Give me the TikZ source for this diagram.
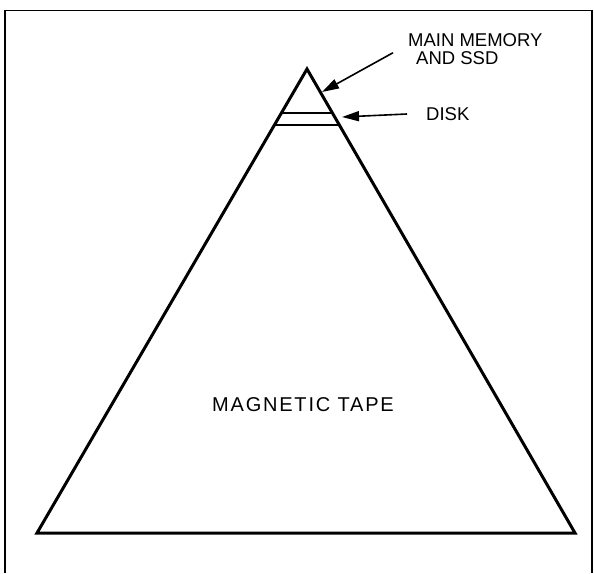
\documentclass[tikz,border=0pt]{standalone}
\usepackage{fontspec}
\setmainfont{Liberation Sans}
\usetikzlibrary{arrows.meta,positioning,calc}

\begin{document}
\begin{tikzpicture}[x=1pt,y=-1pt,>={Triangle[length=17pt,width=10pt]}]
  \tikzstyle{lbl}=[inner sep=0pt,font=\fontsize{18.5}{18}\selectfont,align=left]
  \tikzstyle{edge}=[line width=3pt,line join=miter]
  \tikzstyle{band}=[line width=2.5pt]
  \tikzstyle{arr}=[line width=1.6pt,->]
  \useasboundingbox (0,0) rectangle (594,573);
  \draw[line width=1.5pt] (5,573) -- (5,10.5) -- (592,10.5) -- (592,573);
  % pyramid
  \coordinate (apex) at (307,69);
  \coordinate (bl) at (37,533);
  \coordinate (br) at (575,533);
  \draw[edge] (apex) -- (bl) -- (br) -- cycle;
  \draw[band] ($(apex)!0.095!(bl)$) -- ($(apex)!0.095!(br)$);
  \draw[band] ($(apex)!0.121!(bl)$) -- ($(apex)!0.121!(br)$);
  % labels
  \node[lbl,anchor=north west] (mem) at (408,33) {MAIN MEMORY\\\hspace*{8pt}AND SSD};
  \node[lbl,anchor=west] (disk) at (426,114) {DISK};
  \node[lbl,font=\fontsize{20}{24}\selectfont\addfontfeature{LetterSpace=9}] (tape) at (303,405) {MAGNETIC TAPE};
  \coordinate (memtip) at (322,92);
  \coordinate (disktip) at (342,117);
  \draw[arr] ([xshift=-15pt,yshift=-4pt]mem.west) -- (memtip);
  \draw[arr] ([xshift=-19pt]disk.west) -- (disktip);
\end{tikzpicture}
\end{document}
